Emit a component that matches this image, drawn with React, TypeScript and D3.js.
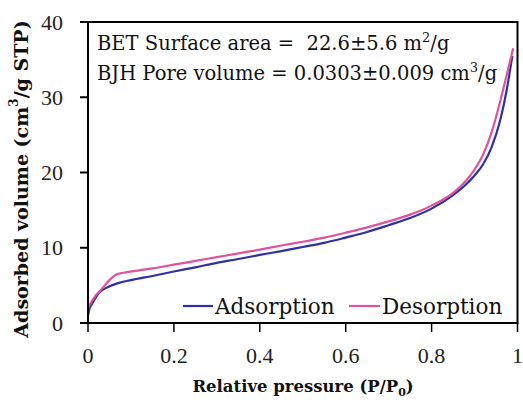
import React from "react";
import * as d3 from "d3";

const adsP = [0.0, 0.003, 0.009, 0.016, 0.024, 0.04, 0.055, 0.07, 0.1, 0.15, 0.2, 0.25, 0.3, 0.35, 0.4, 0.45, 0.5, 0.55, 0.6, 0.65, 0.7, 0.75, 0.8, 0.85, 0.88, 0.9, 0.92, 0.94, 0.96, 0.975, 0.988];
const adsV = [1.0, 1.8, 2.5, 3.2, 3.9, 4.6, 5.0, 5.3, 5.7, 6.25, 6.85, 7.4, 8.0, 8.5, 9.05, 9.55, 10.1, 10.65, 11.35, 12.1, 13.0, 13.95, 15.2, 17.0, 18.4, 19.6, 21.1, 23.4, 27.0, 31.0, 35.5];
const desP = [0.0, 0.008, 0.016, 0.03, 0.04, 0.05, 0.063, 0.075, 0.09, 0.12, 0.15, 0.2, 0.25, 0.3, 0.35, 0.4, 0.45, 0.5, 0.55, 0.6, 0.65, 0.7, 0.75, 0.8, 0.85, 0.88, 0.9, 0.92, 0.94, 0.96, 0.975, 0.99];
const desV = [2.0, 2.8, 3.5, 4.4, 5.05, 5.7, 6.35, 6.6, 6.75, 7.0, 7.25, 7.75, 8.25, 8.75, 9.25, 9.75, 10.3, 10.8, 11.35, 12.0, 12.7, 13.5, 14.4, 15.6, 17.3, 18.9, 20.4, 22.4, 25.4, 29.5, 33.0, 36.5];

const xTicks = [0, 0.2, 0.4, 0.6, 0.8, 1];
const xTickLabels = ["0", "0.2", "0.4", "0.6", "0.8", "1"];
const yTicks = [0, 10, 20, 30, 40];
const seriesNames = ["Adsorption", "Desorption"];
const seriesColors = ["#2e31a3", "#e0529c"];

const W = 523, H = 404;
const L = 88, R = 517.5, T = 22, B = 323;

export default function App() {
  const x = d3.scaleLinear().domain([0, 1]).range([L, R]);
  const y = d3.scaleLinear().domain([0, 40]).range([B, T]);
  const line = d3.line<[number, number]>().x(d => x(d[0])).y(d => y(d[1])).curve(d3.curveMonotoneX);
  const ads = adsP.map((p, i) => [p, adsV[i]] as [number, number]);
  const des = desP.map((p, i) => [p, desV[i]] as [number, number]);
  const serif = "'DejaVu Serif', serif";
  const numFont = "'Liberation Serif', serif";
  return (
    <svg width={W} height={H} style={{ position: "absolute", left: 0, top: 0, background: "#fff" }}>
      <rect x={0} y={0} width={W} height={H} fill="#fff" />
      <path d={line(ads) || ""} fill="none" stroke={seriesColors[0]} strokeWidth={2.2} />
      <path d={line(des) || ""} fill="none" stroke={seriesColors[1]} strokeWidth={2.2} />
      <rect x={L} y={T} width={R - L} height={B - T} fill="none" stroke="#000" strokeWidth={2} />
      {yTicks.map(t => (
        <g key={"y" + t}>
          <line x1={L - 8} x2={L} y1={y(t)} y2={y(t)} stroke="#000" strokeWidth={2} />
          <text x={63} y={y(t)} textAnchor="end" dominantBaseline="central" fontFamily={numFont} fontSize={22} fill="#222">{t}</text>
        </g>
      ))}
      {xTicks.map((t, i) => (
        <g key={"x" + t}>
          <line x1={x(t)} x2={x(t)} y1={B} y2={B + 9} stroke="#000" strokeWidth={1.5} />
          <text x={x(t)} y={363} textAnchor="middle" fontFamily={numFont} fontSize={22} fill="#222">{xTickLabels[i]}</text>
        </g>
      ))}
      <text x={97} y={50} fontFamily={serif} fontSize={19.5} fill="#111" style={{ whiteSpace: "pre" }}>
        BET Surface area =  22.6±5.6 m<tspan fontSize={13} dy={-8}>2</tspan><tspan dy={8}>/g</tspan>
      </text>
      <text x={97} y={80} fontFamily={serif} fontSize={19.5} fill="#111" style={{ whiteSpace: "pre" }}>
        BJH Pore volume = 0.0303±0.009 cm<tspan fontSize={13} dy={-8}>3</tspan><tspan dy={8}>/g</tspan>
      </text>
      <line x1={183} x2={213} y1={306} y2={306} stroke={seriesColors[0]} strokeWidth={2.2} />
      <text x={215} y={306} dominantBaseline="central" fontFamily={serif} fontSize={21.5} fill="#111">{seriesNames[0]}</text>
      <line x1={349} x2={380} y1={306} y2={306} stroke={seriesColors[1]} strokeWidth={2.2} />
      <text x={382} y={306} dominantBaseline="central" fontFamily={serif} fontSize={21.5} fill="#111">{seriesNames[1]}</text>
      <text x={303} y={392} textAnchor="middle" fontFamily={serif} fontWeight="bold" fontSize={16.5} fill="#111">
        Relative pressure (P/P<tspan fontSize={11} dy={4}>0</tspan><tspan dy={-4}>)</tspan>
      </text>
      <text transform={`translate(21,179) rotate(-90)`} textAnchor="middle" dominantBaseline="central" fontFamily={serif} fontWeight="bold" fontSize={19} fill="#111">
        Adsorbed volume (cm<tspan fontSize={12} dy={-7}>3</tspan><tspan dy={7}>/g STP)</tspan>
      </text>
    </svg>
  );
}
